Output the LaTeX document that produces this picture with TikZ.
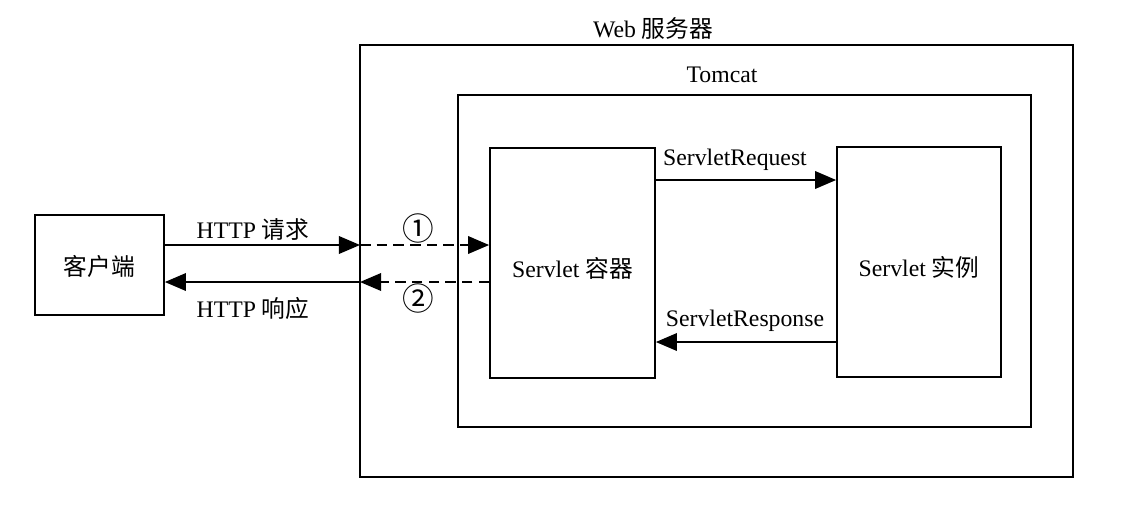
\documentclass[tikz,border=0pt]{standalone}
\usepackage{fontspec}
\setmainfont{Liberation Serif}
\newfontfamily\cjk{Noto Sans CJK SC}
\usetikzlibrary{arrows.meta}

\begin{document}
\begin{tikzpicture}[x=0.02cm,y=-0.02cm,
    every node/.style={font=\fontsize{13.5pt}{16pt}\selectfont},
    box/.style={draw,line width=1pt,inner sep=0pt},
    arr/.style={line width=1pt,-{Triangle[length=12pt,width=10pt]}},
    dashline/.style={dash pattern=on 6pt off 3.5pt}]
    \useasboundingbox (0,0) rectangle (1135,508);
    % outer frames
    \node[box,minimum width=14.26cm,minimum height=8.64cm] (web) at (716.5,261) {};
    \node (weblabel) at (653,28) {Web {\cjk 服务器}};
    \node[box,minimum width=11.46cm,minimum height=6.64cm] (tomcat) at (744.5,261) {};
    \node (tomcatlabel) at (722,75) {Tomcat};
    % boxes
    \node[box,minimum width=2.58cm,minimum height=2cm,text height=0.45cm] (client) at (99.5,265) {\cjk 客户端};
    \node[box,minimum width=3.3cm,minimum height=4.6cm,text height=0.6cm] (cont) at (572.5,263) {Servlet {\cjk 容器}};
    \node[box,minimum width=3.28cm,minimum height=4.6cm,text height=0.6cm] (inst) at (919,262) {Servlet {\cjk 实例}};
    % client <-> server
    \coordinate (req) at (360,245);
    \coordinate (resp) at (360,282);
    \draw[arr] (client.east |- req) -- (req);
    \draw[arr,dashline] (req) -- (cont.west |- req);
    \draw[arr,dashline] (cont.west |- resp) -- (resp);
    \draw[arr] (resp) -- (client.east |- resp);
    \node (reqlabel) at (253,230) {HTTP {\cjk 请求}};
    \node (resplabel) at (253,308) {HTTP {\cjk 响应}};
    \node[font=\fontsize{18pt}{20pt}\selectfont] (one) at (418,228) {\cjk ①};
    \node[font=\fontsize{18pt}{20pt}\selectfont] (two) at (418,298) {\cjk ②};
    % container <-> instance
    \coordinate (sreq) at (700,180);
    \coordinate (sresp) at (700,342);
    \draw[arr] (cont.east |- sreq) -- (inst.west |- sreq);
    \draw[arr] (inst.west |- sresp) -- (cont.east |- sresp);
    \node (sreqlabel) at (735,160) {ServletRequest};
    \node (sresplabel) at (745,321) {ServletResponse};
\end{tikzpicture}
\end{document}
